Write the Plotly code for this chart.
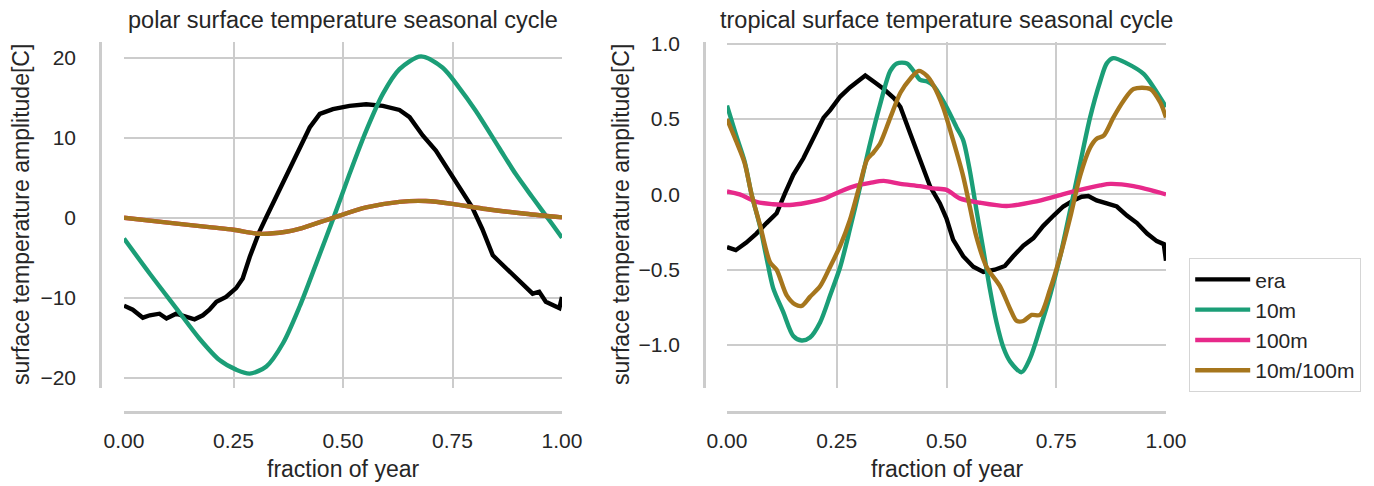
import plotly.graph_objects as go

# ---------------- data ----------------
# Polar panel
polar_era_x = [0, 0.02, 0.043, 0.059, 0.081, 0.097, 0.119, 0.142, 0.161, 0.18, 0.195, 0.211,
               0.233, 0.256, 0.271, 0.287, 0.309, 0.325, 0.34, 0.363, 0.378, 0.40, 0.424,
               0.447, 0.477, 0.515, 0.553, 0.591, 0.629, 0.652, 0.682, 0.712, 0.735, 0.765,
               0.795, 0.818, 0.842, 0.857, 0.872, 0.895, 0.918, 0.933, 0.948, 0.963, 0.986,
               0.994, 1.0]
polar_era_y = [-11.0, -11.5, -12.5, -12.2, -12.0, -12.6, -12.0, -12.4, -12.7, -12.2, -11.5,
               -10.5, -9.9, -8.8, -7.6, -4.9, -1.75, 0.1, 1.8, 4.3, 6.0, 8.8, 11.3, 13.0,
               13.6, 14.0, 14.2, 14.0, 13.5, 12.6, 10.3, 8.4, 6.5, 3.8, 1.3, -1.4, -4.7,
               -5.5, -6.3, -7.4, -8.8, -9.5, -9.25, -10.5, -11.1, -11.3, -9.9]

polar_10m_x = [0, 0.059, 0.119, 0.172, 0.218, 0.256, 0.287, 0.325, 0.363, 0.401, 0.439,
               0.477, 0.515, 0.553, 0.591, 0.629, 0.678, 0.727, 0.765, 0.803, 0.856, 0.894,
               0.932, 0.977, 1.0]
polar_10m_y = [-2.6, -7.0, -11.3, -15.1, -17.8, -19.0, -19.5, -18.6, -15.7, -11.1, -5.7,
               -0.2, 5.5, 10.9, 15.5, 18.6, 20.2, 18.8, 16.3, 13.4, 8.8, 5.5, 2.6, -0.75, -2.5]

polar_100m_x = [0, 0.1, 0.2, 0.25, 0.31, 0.37, 0.40, 0.477, 0.553, 0.629, 0.689, 0.75,
                0.826, 0.917, 1.0]
polar_100m_y = [0.0, -0.6, -1.2, -1.5, -2.0, -1.75, -1.4, 0.0, 1.3, 2.0, 2.1, 1.75, 1.1,
                0.5, 0.05]

polar_ratio_x = [0, 0.1, 0.2, 0.25, 0.31, 0.37, 0.40, 0.477, 0.553, 0.629, 0.689, 0.75,
                 0.826, 0.917, 1.0]
polar_ratio_y = [0.0, -0.6, -1.2, -1.5, -2.0, -1.75, -1.4, 0.0, 1.3, 2.0, 2.1, 1.75, 1.1,
                 0.5, 0.05]

# Tropical panel
trop_era_x = [0, 0.02, 0.044, 0.067, 0.09, 0.113, 0.132, 0.151, 0.174, 0.197, 0.22, 0.235,
              0.258, 0.28, 0.296, 0.315, 0.334, 0.357, 0.38, 0.395, 0.418, 0.44, 0.463,
              0.485, 0.5, 0.515, 0.538, 0.561, 0.584, 0.61, 0.633, 0.652, 0.675, 0.698,
              0.72, 0.744, 0.766, 0.789, 0.808, 0.823, 0.842, 0.865, 0.888, 0.911, 0.934,
              0.957, 0.979, 0.995, 1.0]
trop_era_y = [-0.35, -0.37, -0.32, -0.26, -0.19, -0.125, 0.007, 0.13, 0.24, 0.38, 0.51,
              0.56, 0.65, 0.71, 0.75, 0.79, 0.75, 0.70, 0.64, 0.58, 0.40, 0.23, 0.05,
              -0.06, -0.16, -0.30, -0.41, -0.48, -0.515, -0.50, -0.475, -0.41, -0.34,
              -0.29, -0.21, -0.14, -0.08, -0.04, -0.015, -0.01, -0.04, -0.06, -0.08,
              -0.14, -0.19, -0.26, -0.31, -0.33, -0.44]

trop_10m_x = [0, 0.02, 0.04, 0.056, 0.075, 0.09, 0.105, 0.128, 0.151, 0.17, 0.189, 0.212,
              0.235, 0.258, 0.28, 0.303, 0.326, 0.349, 0.372, 0.387, 0.41, 0.425, 0.44,
              0.456, 0.471, 0.5, 0.523, 0.538, 0.553, 0.568, 0.584, 0.599, 0.614, 0.63,
              0.645, 0.671, 0.69, 0.713, 0.736, 0.759, 0.782, 0.804, 0.827, 0.85, 0.865,
              0.88, 0.911, 0.949, 0.972, 1.0]
trop_10m_y = [0.59, 0.40, 0.22, 0.0, -0.21, -0.42, -0.62, -0.78, -0.94, -0.97, -0.95,
              -0.85, -0.67, -0.48, -0.23, 0.05, 0.34, 0.60, 0.82, 0.87, 0.87, 0.82, 0.76,
              0.75, 0.72, 0.58, 0.445, 0.36, 0.16, -0.10, -0.37, -0.63, -0.85, -1.02,
              -1.11, -1.18, -1.09, -0.89, -0.67, -0.41, -0.10, 0.20, 0.51, 0.75, 0.87,
              0.905, 0.87, 0.80, 0.71, 0.58]

trop_100m_x = [0, 0.029, 0.067, 0.105, 0.143, 0.181, 0.22, 0.258, 0.296, 0.326, 0.357,
               0.395, 0.44, 0.47, 0.5, 0.53, 0.576, 0.637, 0.698, 0.759, 0.804, 0.85,
               0.873, 0.926, 1.0]
trop_100m_y = [0.02, 0.0, -0.05, -0.065, -0.07, -0.055, -0.03, 0.02, 0.06, 0.077, 0.09,
               0.07, 0.055, 0.04, 0.03, -0.026, -0.055, -0.077, -0.05, -0.004, 0.03, 0.06,
               0.07, 0.055, 0.0]

trop_ratio_x = [0, 0.02, 0.04, 0.056, 0.075, 0.098, 0.113, 0.136, 0.155, 0.17, 0.189,
                0.212, 0.235, 0.258, 0.28, 0.303, 0.319, 0.334, 0.349, 0.372, 0.395, 0.418,
                0.437, 0.456, 0.471, 0.492, 0.515, 0.538, 0.553, 0.568, 0.591, 0.622, 0.645,
                0.66, 0.675, 0.694, 0.713, 0.736, 0.759, 0.782, 0.804, 0.827, 0.842, 0.858,
                0.88, 0.903, 0.926, 0.964, 0.987, 1.0]
trop_ratio_y = [0.50, 0.36, 0.21, 0.0, -0.20, -0.45, -0.50, -0.67, -0.73, -0.74, -0.68,
                -0.61, -0.48, -0.34, -0.17, 0.07, 0.23, 0.28, 0.34, 0.51, 0.675, 0.77, 0.82,
                0.785, 0.72, 0.58, 0.36, 0.12, -0.08, -0.28, -0.48, -0.61, -0.76, -0.84,
                -0.84, -0.80, -0.80, -0.63, -0.41, -0.15, 0.12, 0.31, 0.37, 0.39, 0.51,
                0.62, 0.70, 0.70, 0.61, 0.51]

series_names = ["era", "10m", "100m", "10m/100m"]
series_colors = ["#000000", "#1b9e77", "#e7298a", "#a6761d"]

x_ticks = [0, 0.25, 0.5, 0.75, 1.0]
polar_yticks = [-20, -10, 0, 10, 20]
trop_yticks = [-1.0, -0.5, 0.0, 0.5, 1.0]

titles = ["polar surface temperature seasonal cycle",
          "tropical surface temperature seasonal cycle"]
xlabel = "fraction of year"
ylabel = "surface temperature amplitude[C]"

# ---------------- figure ----------------
W, H = 1374, 486
FONT = "Liberation Sans, Arial, Helvetica, sans-serif"
TXT = "#262626"
GRID = "#cccccc"


def fx(p):
    return p / W


def fy(p):
    return 1 - p / H


fig = go.Figure()

polar = [(polar_era_x, polar_era_y), (polar_10m_x, polar_10m_y),
         (polar_100m_x, polar_100m_y), (polar_ratio_x, polar_ratio_y)]
trop = [(trop_era_x, trop_era_y), (trop_10m_x, trop_10m_y),
        (trop_100m_x, trop_100m_y), (trop_ratio_x, trop_ratio_y)]

for panel, (xa, ya, data) in enumerate([("x", "y", polar), ("x2", "y2", trop)]):
    for i, (xs, ys) in enumerate(data):
        fig.add_trace(go.Scatter(
            x=xs, y=ys, xaxis=xa, yaxis=ya, mode="lines",
            name=series_names[i], legendgroup=series_names[i],
            showlegend=(panel == 1),
            line=dict(color=series_colors[i], width=4.4,
                      shape="linear" if i == 0 else "spline",
                      smoothing=0.8),
        ))

common_x = dict(range=[0, 1], tickvals=x_ticks, tickformat=".2f",
                showgrid=True, gridcolor=GRID, gridwidth=1.6,
                showline=True, linecolor=GRID, linewidth=2.5,
                zeroline=False, ticks="", ticklabelstandoff=9,
                automargin=False,
                tickfont=dict(size=21, color=TXT, family=FONT),
                anchor="free", position=fy(412))
common_y = dict(showgrid=True, gridcolor=GRID, gridwidth=1.6,
                showline=True, linecolor=GRID, linewidth=2.5,
                zeroline=False, ticks="", ticklabelstandoff=19,
                automargin=False,
                tickfont=dict(size=21, color=TXT, family=FONT),
                anchor="free", domain=[fy(388), fy(42)])

fig.update_layout(
    width=W, height=H, autosize=False,
    margin=dict(l=0, r=0, t=0, b=0, pad=0, autoexpand=False),
    paper_bgcolor="white", plot_bgcolor="white",
    font=dict(family=FONT, color=TXT),
    xaxis=dict(domain=[fx(124), fx(562)], **common_x),
    xaxis2=dict(domain=[fx(727), fx(1166)], **common_x),
    yaxis=dict(range=[-21.3, 22.0], tickvals=polar_yticks, position=fx(100), **common_y),
    yaxis2=dict(range=[-1.285, 1.012], tickvals=trop_yticks, tickformat=".1f",
                position=fx(704), **common_y),
    legend=dict(x=fx(1189), y=fy(258), xanchor="left", yanchor="top",
                bordercolor="#d5d5d5", borderwidth=1.2, bgcolor="white",
                font=dict(size=21, color=TXT, family=FONT),
                itemwidth=55, tracegroupgap=1, traceorder="normal"),
    showlegend=True,
)

annotations = []
for cx, t in [((124 + 562) / 2, titles[0]), ((727 + 1166) / 2, titles[1])]:
    annotations.append(dict(text=t, x=fx(cx), y=fy(20), xref="paper", yref="paper",
                            showarrow=False, xanchor="center", yanchor="middle",
                            font=dict(size=23.5, color=TXT, family=FONT)))
    annotations.append(dict(text=xlabel, x=fx(cx), y=fy(469), xref="paper", yref="paper",
                            showarrow=False, xanchor="center", yanchor="middle",
                            font=dict(size=23, color=TXT, family=FONT)))
for cx in [21, 621]:
    annotations.append(dict(text=ylabel, x=fx(cx), y=fy(215), xref="paper", yref="paper",
                            showarrow=False, xanchor="center", yanchor="middle",
                            textangle=-90,
                            font=dict(size=23, color=TXT, family=FONT)))
fig.update_layout(annotations=annotations)

fig.write_html(
    "out.html",
    config={"displayModeBar": False},
    post_script="document.body.style.margin='0px';document.body.style.overflow='hidden';",
)
